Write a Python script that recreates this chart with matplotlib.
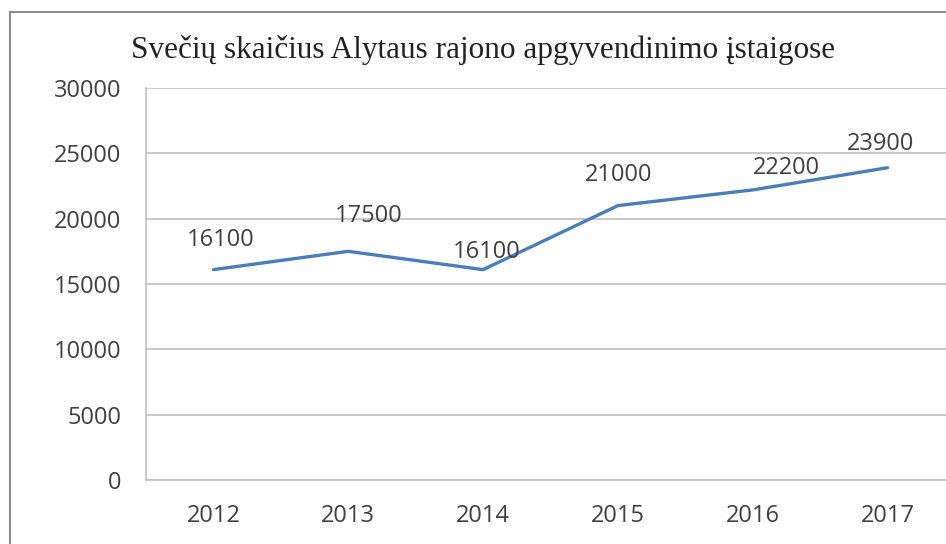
import matplotlib
matplotlib.use("Agg")
import matplotlib.pyplot as plt
from matplotlib.patches import Rectangle

years = ["2012", "2013", "2014", "2015", "2016", "2017"]
guests = [16100, 17500, 16100, 21000, 22200, 23900]
title = "Svečių skaičius Alytaus rajono apgyvendinimo įstaigose"
yticks = [0, 5000, 10000, 15000, 20000, 25000, 30000]
# label offsets in pixels (style)
label_dx = [7, 20, 4, 1, 34, -7]
label_dy = [30, 35, 18, 31, 22, 24]

fig = plt.figure(figsize=(9.46, 5.44), dpi=100)
fig.patch.set_facecolor("white")
fig.patches.append(Rectangle((10/946, -0.1), 1.2, 1 - 12/544 + 0.1, transform=fig.transFigure,
                             fill=False, edgecolor="#8c8c8c", linewidth=1.5))

ax = fig.add_axes([146/946, 1 - 480/544, (955 - 146)/946, (480 - 88)/544])
x = list(range(len(years)))
ax.plot(x, guests, color="#4a7ebb", linewidth=2.4, solid_capstyle="round", zorder=3)
ax.set_xlim(-0.5, len(years) - 0.5)
ax.set_ylim(0, 30000)
ax.set_yticks(yticks)
ax.set_yticklabels([str(v) for v in yticks])
ax.set_xticks(x)
ax.set_xticklabels(years)
ax.grid(axis="y", color="#bfbfbf", linewidth=1.2)
ax.set_axisbelow(True)
for s in ["top", "right"]:
    ax.spines[s].set_visible(False)
ax.spines["left"].set_color("#bfbfbf")
ax.spines["bottom"].set_color("#bfbfbf")
ax.spines["left"].set_linewidth(1.2)
ax.spines["bottom"].set_linewidth(1.2)
ax.tick_params(axis="both", length=0, labelsize=17, labelcolor="#404040")
ax.tick_params(axis="y", pad=18)
ax.tick_params(axis="x", pad=17.5)
for lab in ax.get_xticklabels() + ax.get_yticklabels():
    lab.set_fontfamily("Open Sans")

for xi, v, dx, dy in zip(x, guests, label_dx, label_dy):
    ax.annotate(str(v), (xi, v), xytext=(dx * 0.72, dy * 0.72), textcoords="offset points",
                ha="center", va="center", fontsize=17, color="#404040", family="Open Sans",
                annotation_clip=False)

fig.text(483/946, 1 - 50/544, title, ha="center", va="center", fontsize=22.5,
         family="Liberation Serif", color="#222222")

fig.savefig("out.png", dpi=100)
